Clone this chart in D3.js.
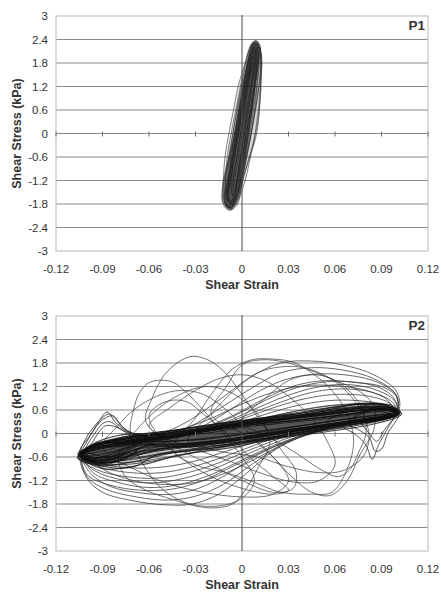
<!DOCTYPE html>
<html>
<head>
<meta charset="utf-8">
<script src="https://cdn.jsdelivr.net/npm/d3@7"></script>
<style>
  body { margin:0; background:#fff; }
  svg { display:block; font-family:"Liberation Sans", Arial, sans-serif; }
</style>
</head>
<body>
<svg id="chart" width="441" height="592"></svg>
<script>
// shear stress (kPa) vs shear strain, two test phases
const xTicks = [-0.12,-0.09,-0.06,-0.03,0,0.03,0.06,0.09,0.12];
const yTicks = [3,2.4,1.8,1.2,0.6,0,-0.6,-1.2,-1.8,-2.4,-3];
const panelLabels = ['P1','P2'];

// P1 loops: [strain, stress]
const p1Loops = [
  [[-0.0077,-1.95],[-0.003,-1.8],[0.0005,-1.2],[0.005,-0.6],[0.0095,0],[0.0112,0.6],[0.012,1.2],[0.012,1.8],[0.011,2.2],[0.0088,2.37],[0.0055,2.25],[0.002,1.8],[-0.0025,1.2],[-0.0055,0.6],[-0.0085,0],[-0.011,-0.6],[-0.012,-1.2],[-0.0115,-1.75]],
  [[-0.0068,-1.88],[-0.0025,-1.65],[0.001,-1.0],[0.0045,-0.3],[0.0075,0.4],[0.0095,1.1],[0.0105,1.7],[0.0098,2.2],[0.0075,2.3],[0.004,2.05],[0.0005,1.5],[-0.003,0.8],[-0.0065,0.1],[-0.0095,-0.6],[-0.0108,-1.3],[-0.0098,-1.8]],
  [[-0.006,-1.8],[-0.002,-1.4],[0.0015,-0.7],[0.0045,0.1],[0.007,0.9],[0.0085,1.6],[0.0085,2.15],[0.0065,2.28],[0.004,1.9],[0.001,1.2],[-0.002,0.4],[-0.005,-0.4],[-0.0078,-1.1],[-0.0085,-1.65]],
  [[-0.0075,-1.9],[-0.004,-1.7],[-0.001,-1.1],[0.002,-0.4],[0.0055,0.4],[0.0085,1.2],[0.0105,1.9],[0.0095,2.3],[0.0065,2.2],[0.003,1.7],[-0.001,1.0],[-0.0045,0.3],[-0.0078,-0.5],[-0.0105,-1.2],[-0.011,-1.75]],
  [[-0.0058,-1.7],[-0.002,-1.45],[0.0015,-0.8],[0.006,0],[0.0095,0.8],[0.0118,1.5],[0.0125,2.0],[0.0105,2.2],[0.0075,2.0],[0.004,1.5],[0.0,0.8],[-0.0035,0.0],[-0.007,-0.8],[-0.0095,-1.4],[-0.009,-1.7]],
  [[-0.0078,-1.92],[-0.0045,-1.78],[-0.0015,-1.3],[0.0015,-0.6],[0.0045,0.2],[0.0075,1.0],[0.0098,1.8],[0.0098,2.25],[0.0078,2.32],[0.005,2.0],[0.0015,1.4],[-0.002,0.6],[-0.0055,-0.2],[-0.0088,-1.0],[-0.0105,-1.6]],
  [[-0.005,-1.6],[-0.002,-1.2],[0.001,-0.5],[0.0035,0.3],[0.006,1.1],[0.0078,1.8],[0.007,2.1],[0.005,1.9],[0.002,1.3],[-0.001,0.5],[-0.004,-0.3],[-0.0065,-1.0],[-0.0068,-1.5]],
  [[-0.0085,-1.85],[-0.0055,-1.6],[-0.002,-1.0],[0.0015,-0.3],[0.005,0.5],[0.0082,1.3],[0.0105,2.0],[0.0092,2.35],[0.006,2.25],[0.0025,1.75],[-0.0015,1.0],[-0.005,0.2],[-0.0085,-0.6],[-0.0115,-1.3],[-0.0112,-1.75]],
  [[-0.0065,-1.75],[-0.0025,-1.5],[0.0005,-0.9],[0.0035,-0.2],[0.0065,0.6],[0.0092,1.4],[0.0112,2.05],[0.0102,2.3],[0.0072,2.15],[0.004,1.6],[0.0005,0.9],[-0.0032,0.1],[-0.0068,-0.7],[-0.0098,-1.35],[-0.0095,-1.7]],
  [[-0.007,-1.82],[-0.004,-1.55],[-0.0008,-0.95],[0.0022,-0.25],[0.005,0.5],[0.0078,1.25],[0.0095,1.9],[0.0085,2.2],[0.0055,2.05],[0.002,1.5],[-0.0015,0.7],[-0.0048,-0.1],[-0.008,-0.9],[-0.0098,-1.5]],
  [[-0.0072,-1.9],[-0.0035,-1.72],[0.0,-1.15],[0.0032,-0.45],[0.0062,0.3],[0.009,1.05],[0.0112,1.75],[0.0115,2.25],[0.0092,2.36],[0.0062,2.15],[0.0028,1.6],[-0.0008,0.9],[-0.0042,0.15],[-0.0078,-0.65],[-0.0108,-1.35],[-0.0108,-1.8]],
  [[-0.0062,-1.78],[-0.0028,-1.5],[0.0005,-0.85],[0.0038,-0.1],[0.0068,0.7],[0.0088,1.45],[0.0092,2.0],[0.0075,2.18],[0.0045,1.85],[0.0012,1.2],[-0.0022,0.45],[-0.0055,-0.35],[-0.0085,-1.1],[-0.009,-1.6]],
  [[-0.006,-1.85],[-0.003,-1.2],[0.0,-0.4],[0.003,0.4],[0.0065,1.2],[0.0095,1.9],[0.009,2.3],[0.0065,2.0],[0.0035,1.2],[0.0005,0.4],[-0.0025,-0.4],[-0.0055,-1.2],[-0.008,-1.8]],
  [[-0.007,-1.9],[-0.004,-1.4],[-0.0015,-0.7],[0.0015,0.1],[0.0045,0.9],[0.0075,1.6],[0.0092,2.2],[0.0075,2.32],[0.005,1.8],[0.0015,1.0],[-0.0015,0.2],[-0.005,-0.6],[-0.008,-1.3],[-0.0095,-1.8]],
  [[-0.0055,-1.6],[-0.0025,-1.0],[0.0005,-0.2],[0.0035,0.6],[0.0068,1.4],[0.0088,2.0],[0.0078,2.15],[0.0055,1.6],[0.0025,0.8],[-0.0008,0.0],[-0.0042,-0.8],[-0.0068,-1.4]],
  [[-0.0082,-1.9],[-0.006,-1.5],[-0.003,-0.8],[0.0,0.0],[0.0035,0.8],[0.0065,1.5],[0.0085,2.1],[0.007,2.25],[0.004,1.7],[0.0005,0.9],[-0.003,0.1],[-0.0065,-0.7],[-0.0095,-1.4],[-0.0102,-1.85]],
  [[-0.0045,-1.5],[-0.001,-0.9],[0.002,-0.2],[0.0055,0.6],[0.0085,1.3],[0.0105,1.9],[0.0095,2.1],[0.0068,1.7],[0.0035,1.0],[0.0,0.2],[-0.0035,-0.6],[-0.0058,-1.2]],
  [[-0.0095,-1.7],[-0.0075,-1.3],[-0.0048,-0.6],[-0.0015,0.2],[0.002,0.9],[0.0055,1.5],[0.0072,1.8],[0.005,1.6],[0.0015,1.0],[-0.002,0.3],[-0.0055,-0.5],[-0.0088,-1.2],[-0.011,-1.6]],
  [[-0.007,-1.75],[-0.0035,-1.3],[0.0,-0.6],[0.0035,0.2],[0.0068,1.0],[0.0098,1.7],[0.0118,2.2],[0.0098,2.3],[0.0065,1.9],[0.003,1.2],[-0.0005,0.4],[-0.004,-0.4],[-0.0072,-1.1],[-0.0095,-1.6]],
  [[-0.0065,-1.92],[-0.0048,-1.5],[-0.002,-0.9],[0.001,-0.2],[0.004,0.6],[0.0068,1.3],[0.0085,1.8],[0.007,1.95],[0.0042,1.5],[0.0012,0.8],[-0.0022,0.0],[-0.0058,-0.8],[-0.0085,-1.5],[-0.0088,-1.85]],
  [[-0.01,-1.6],[-0.0068,-1.0],[-0.0035,-0.3],[0.0,0.5],[0.0035,1.2],[0.006,1.7],[0.004,1.5],[0.0005,0.8],[-0.003,0.0],[-0.0065,-0.7],[-0.0092,-1.3]],
  [[-0.0058,-1.82],[-0.002,-1.55],[0.002,-0.95],[0.0075,-0.2],[0.0105,0.6],[0.012,1.3],[0.0128,1.85],[0.0115,2.15],[0.0088,2.05],[0.0055,1.6],[0.0015,0.9],[-0.002,0.1],[-0.0058,-0.7],[-0.0088,-1.35],[-0.009,-1.75]],
  [[-0.0078,-1.96],[-0.003,-1.75],[0.002,-1.2],[0.006,-0.5],[0.0098,0.2],[0.0118,0.9],[0.0125,1.6],[0.0118,2.15],[0.0092,2.35],[0.0062,2.1],[0.003,1.5],[-0.001,0.8],[-0.0048,0.0],[-0.009,-0.7],[-0.0125,-1.3],[-0.0122,-1.8]],
  [[-0.0088,-1.9],[-0.005,-1.7],[-0.0005,-1.2],[0.0035,-0.5],[0.0072,0.3],[0.0102,1.0],[0.0122,1.7],[0.011,2.2],[0.0078,2.1],[0.0042,1.6],[0.0005,0.9],[-0.0035,0.1],[-0.0078,-0.6],[-0.0118,-1.25],[-0.0125,-1.7]]
];

// P2 thin loops along the main band
const p2BandLoops = [
  [[-0.104,-0.56],[-0.095,-0.72],[-0.075,-0.6],[-0.05,-0.42],[-0.02,-0.28],[0.01,-0.1],[0.04,0.1],[0.07,0.28],[0.092,0.4],[0.101,0.52],[0.09,0.6],[0.06,0.45],[0.03,0.32],[0,0.2],[-0.03,0.02],[-0.06,-0.14],[-0.085,-0.28],[-0.1,-0.42]],
  [[-0.102,-0.5],[-0.09,-0.66],[-0.07,-0.5],[-0.045,-0.35],[-0.015,-0.22],[0.015,-0.05],[0.045,0.12],[0.075,0.3],[0.095,0.42],[0.099,0.55],[0.085,0.62],[0.055,0.48],[0.025,0.34],[-0.005,0.16],[-0.035,-0.02],[-0.065,-0.2],[-0.09,-0.32],[-0.1,-0.4]],
  [[-0.106,-0.6],[-0.092,-0.82],[-0.07,-0.72],[-0.045,-0.5],[-0.015,-0.35],[0.02,-0.12],[0.05,0.05],[0.08,0.25],[0.097,0.42],[0.102,0.56],[0.088,0.7],[0.06,0.6],[0.03,0.42],[0,0.3],[-0.03,0.12],[-0.06,-0.05],[-0.085,-0.2],[-0.1,-0.38]],
  [[-0.103,-0.62],[-0.088,-0.75],[-0.065,-0.45],[-0.04,-0.32],[-0.01,-0.2],[0.02,0],[0.05,0.15],[0.08,0.32],[0.1,0.48],[0.095,0.6],[0.07,0.5],[0.04,0.36],[0.01,0.24],[-0.02,0.08],[-0.05,-0.1],[-0.075,-0.22],[-0.095,-0.3]],
  [[-0.105,-0.5],[-0.095,-0.62],[-0.08,-0.55],[-0.06,-0.3],[-0.035,-0.25],[-0.005,-0.12],[0.025,0.08],[0.055,0.22],[0.085,0.38],[0.1,0.46],[0.098,0.58],[0.08,0.65],[0.05,0.52],[0.02,0.4],[-0.01,0.22],[-0.04,0.05],[-0.07,-0.12],[-0.09,-0.25]],
  [[-0.104,-0.58],[-0.09,-0.9],[-0.065,-0.8],[-0.04,-0.55],[-0.01,-0.38],[0.02,-0.15],[0.05,0.02],[0.08,0.2],[0.098,0.38],[0.103,0.5],[0.09,0.75],[0.065,0.7],[0.035,0.5],[0.005,0.36],[-0.025,0.2],[-0.055,0.0],[-0.08,-0.15],[-0.098,-0.3]],
  [[-0.1,-0.45],[-0.085,-0.6],[-0.065,-0.38],[-0.04,-0.28],[-0.01,-0.15],[0.02,0.02],[0.05,0.18],[0.08,0.34],[0.096,0.48],[0.09,0.56],[0.065,0.44],[0.035,0.3],[0.005,0.18],[-0.025,0.0],[-0.055,-0.12],[-0.08,-0.2],[-0.095,-0.3]],
  [[-0.106,-0.62],[-0.096,-0.78],[-0.078,-0.68],[-0.055,-0.42],[-0.025,-0.3],[0.005,-0.18],[0.035,0.02],[0.065,0.2],[0.09,0.35],[0.102,0.5],[0.096,0.62],[0.075,0.58],[0.045,0.45],[0.015,0.32],[-0.015,0.15],[-0.045,-0.05],[-0.075,-0.18],[-0.097,-0.35]],
  [[-0.103,-0.54],[-0.093,-0.68],[-0.072,-0.56],[-0.048,-0.38],[-0.018,-0.25],[0.012,-0.08],[0.042,0.14],[0.072,0.3],[0.094,0.44],[0.1,0.54],[0.088,0.64],[0.058,0.5],[0.028,0.36],[-0.002,0.22],[-0.032,0.04],[-0.062,-0.12],[-0.088,-0.26],[-0.099,-0.4]],
  [[-0.105,-0.58],[-0.091,-0.74],[-0.068,-0.62],[-0.043,-0.45],[-0.013,-0.3],[0.017,-0.12],[0.047,0.08],[0.077,0.26],[0.096,0.4],[0.101,0.52],[0.087,0.66],[0.057,0.55],[0.027,0.38],[-0.003,0.26],[-0.033,0.08],[-0.063,-0.08],[-0.087,-0.22],[-0.1,-0.36]],
  [[-0.104,-0.55],[-0.094,-0.7],[-0.078,-0.5],[-0.065,-0.3],[-0.045,-0.28],[-0.02,-0.22],[0.01,-0.05],[0.04,0.15],[0.07,0.32],[0.092,0.45],[0.1,0.53],[0.092,0.68],[0.07,0.62],[0.04,0.45],[0.01,0.3],[-0.02,0.12],[-0.05,-0.05],[-0.065,-0.05],[-0.08,-0.15],[-0.098,-0.35]],
  [[-0.103,-0.6],[-0.09,-0.8],[-0.075,-0.62],[-0.062,-0.32],[-0.04,-0.35],[-0.01,-0.28],[0.02,-0.1],[0.05,0.1],[0.078,0.28],[0.096,0.44],[0.102,0.55],[0.094,0.72],[0.075,0.75],[0.048,0.55],[0.018,0.38],[-0.012,0.2],[-0.04,0.02],[-0.062,-0.02],[-0.078,-0.1],[-0.096,-0.3]],
  [[-0.105,-0.55],[-0.097,-0.68],[-0.082,-0.62],[-0.066,-0.25],[-0.05,-0.2],[-0.025,-0.15],[0.005,0.0],[0.035,0.18],[0.065,0.35],[0.09,0.48],[0.1,0.5],[0.09,0.62],[0.065,0.56],[0.035,0.42],[0.005,0.28],[-0.025,0.1],[-0.052,0.0],[-0.07,-0.08],[-0.088,-0.22],[-0.1,-0.4]],
  [[-0.102,-0.58],[-0.088,-0.85],[-0.07,-0.85],[-0.055,-0.55],[-0.035,-0.45],[-0.005,-0.3],[0.025,-0.1],[0.055,0.1],[0.082,0.3],[0.099,0.46],[0.1,0.6],[0.085,0.78],[0.06,0.68],[0.03,0.5],[0.0,0.32],[-0.03,0.15],[-0.058,0.02],[-0.08,-0.05],[-0.095,-0.25]],
  [[-0.104,-0.6],[-0.095,-0.75],[-0.08,-0.7],[-0.062,-0.4],[-0.04,-0.3],[-0.012,-0.18],[0.018,0.0],[0.048,0.2],[0.076,0.36],[0.096,0.5],[0.098,0.58],[0.082,0.6],[0.052,0.5],[0.022,0.34],[-0.008,0.2],[-0.038,0.05],[-0.062,-0.1],[-0.085,-0.3],[-0.1,-0.45]],
  [[-0.106,-0.52],[-0.098,-0.62],[-0.085,-0.58],[-0.07,-0.32],[-0.048,-0.22],[-0.018,-0.1],[0.012,0.06],[0.042,0.22],[0.072,0.4],[0.094,0.5],[0.101,0.56],[0.095,0.66],[0.078,0.7],[0.05,0.58],[0.02,0.42],[-0.01,0.28],[-0.04,0.1],[-0.064,-0.02],[-0.08,-0.12],[-0.097,-0.32]]
];

// P2 loops where stress swings away from the band
const p2OpenLoops = [
  [[-0.104,-0.56],[-0.09,-0.7],[-0.07,-0.66],[-0.05,-0.52],[-0.03,-0.4],[-0.005,-0.25],[0.02,-0.05],[0.045,0.12],[0.07,0.3],[0.09,0.42],[0.101,0.52],[0.092,0.64],[0.075,0.66],[0.055,0.58],[0.035,0.45],[0.012,0.3],[-0.01,0.15],[-0.035,-0.02],[-0.06,-0.18],[-0.082,-0.3],[-0.098,-0.42]],
  [[-0.105,-0.58],[-0.092,-0.76],[-0.072,-0.78],[-0.052,-0.66],[-0.032,-0.5],[-0.01,-0.34],[0.014,-0.14],[0.04,0.06],[0.066,0.26],[0.088,0.4],[0.1,0.5],[0.094,0.68],[0.078,0.76],[0.058,0.72],[0.038,0.6],[0.018,0.42],[-0.004,0.24],[-0.028,0.06],[-0.054,-0.12],[-0.078,-0.28],[-0.097,-0.42]],
  [[-0.103,-0.55],[-0.09,-0.78],[-0.07,-0.88],[-0.05,-0.85],[-0.03,-0.7],[-0.01,-0.45],[0.01,-0.2],[0.035,0.05],[0.06,0.25],[0.085,0.4],[0.1,0.52],[0.095,0.7],[0.08,0.82],[0.06,0.85],[0.04,0.75],[0.02,0.55],[0.0,0.3],[-0.025,0.05],[-0.05,-0.15],[-0.075,-0.3],[-0.095,-0.4]],
  [[-0.104,-0.58],[-0.092,-0.85],[-0.072,-1.0],[-0.052,-1.0],[-0.032,-0.85],[-0.012,-0.6],[0.008,-0.3],[0.03,0.0],[0.055,0.22],[0.08,0.38],[0.099,0.5],[0.096,0.75],[0.082,0.95],[0.062,1.0],[0.042,0.9],[0.022,0.68],[0.002,0.4],[-0.02,0.1],[-0.045,-0.12],[-0.07,-0.28],[-0.092,-0.4]],
  [[-0.105,-0.6],[-0.094,-0.92],[-0.075,-1.1],[-0.055,-1.14],[-0.035,-1.0],[-0.015,-0.75],[0.005,-0.42],[0.028,-0.08],[0.052,0.18],[0.078,0.36],[0.1,0.52],[0.097,0.8],[0.084,1.05],[0.065,1.14],[0.045,1.05],[0.025,0.8],[0.005,0.5],[-0.018,0.15],[-0.042,-0.1],[-0.068,-0.25],[-0.09,-0.38]],
  [[-0.104,-0.55],[-0.095,-0.95],[-0.078,-1.18],[-0.058,-1.26],[-0.038,-1.15],[-0.018,-0.9],[0.002,-0.55],[0.025,-0.18],[0.05,0.12],[0.076,0.35],[0.1,0.5],[0.098,0.85],[0.086,1.12],[0.068,1.25],[0.048,1.18],[0.028,0.95],[0.008,0.62],[-0.015,0.22],[-0.04,-0.08],[-0.066,-0.24],[-0.09,-0.36]],
  [[-0.102,-0.52],[-0.096,-1.0],[-0.08,-1.25],[-0.06,-1.38],[-0.04,-1.3],[-0.02,-1.05],[0.0,-0.68],[0.022,-0.28],[0.048,0.06],[0.075,0.32],[0.1,0.5],[0.098,0.9],[0.088,1.18],[0.07,1.32],[0.05,1.3],[0.03,1.1],[0.01,0.75],[-0.012,0.32],[-0.038,-0.05],[-0.064,-0.22],[-0.088,-0.34]],
  [[-0.103,-0.56],[-0.1,-1.05],[-0.085,-1.32],[-0.065,-1.45],[-0.045,-1.42],[-0.025,-1.2],[-0.005,-0.82],[0.018,-0.38],[0.045,0.0],[0.072,0.3],[0.099,0.5],[0.1,0.92],[0.09,1.2],[0.074,1.3],[0.054,1.35],[0.034,1.22],[0.014,0.88],[-0.008,0.42],[-0.034,0.02],[-0.062,-0.2],[-0.088,-0.33]],
  [[-0.104,-0.58],[-0.088,-0.72],[-0.068,-0.72],[-0.048,-0.6],[-0.028,-0.45],[-0.008,-0.28],[0.015,-0.08],[0.04,0.1],[0.065,0.28],[0.088,0.42],[0.101,0.52],[0.094,0.68],[0.076,0.74],[0.056,0.7],[0.036,0.58],[0.016,0.42],[-0.006,0.22],[-0.03,0.02],[-0.056,-0.15],[-0.08,-0.3],[-0.098,-0.42]],
  [[-0.1,-0.5],[-0.09,-0.9],[-0.07,-1.2],[-0.05,-1.3],[-0.03,-1.25],[-0.01,-1.0],[0.01,-0.62],[0.03,-0.2],[0.055,0.15],[0.08,0.38],[0.098,0.5],[0.094,0.85],[0.08,1.1],[0.06,1.22],[0.04,1.22],[0.02,1.05],[0.0,0.75],[-0.022,0.35],[-0.048,0.0],[-0.072,-0.2],[-0.092,-0.35]],
  [[-0.103,-0.56],[-0.098,-1.0],[-0.085,-1.35],[-0.065,-1.52],[-0.045,-1.55],[-0.028,-1.4],[-0.01,-1.05],[0.01,-0.55],[0.035,-0.1],[0.065,0.25],[0.099,0.5],[0.1,0.95],[0.088,1.3],[0.07,1.48],[0.05,1.52],[0.03,1.4],[0.012,1.1],[-0.008,0.6],[-0.03,0.1],[-0.06,-0.18],[-0.088,-0.33]],
  [[-0.103,-0.56],[-0.1,-1.1],[-0.088,-1.42],[-0.068,-1.62],[-0.048,-1.7],[-0.03,-1.6],[-0.012,-1.3],[0.006,-0.8],[0.028,-0.25],[0.06,0.2],[0.099,0.5],[0.099,1.0],[0.085,1.4],[0.065,1.62],[0.045,1.68],[0.025,1.55],[0.008,1.2],[-0.012,0.7],[-0.035,0.15],[-0.062,-0.16],[-0.088,-0.33]],
  [[-0.104,-0.56],[-0.1,-1.15],[-0.09,-1.5],[-0.07,-1.72],[-0.05,-1.82],[-0.032,-1.8],[-0.015,-1.55],[0.002,-1.05],[0.022,-0.4],[0.055,0.15],[0.1,0.5],[0.1,1.05],[0.085,1.5],[0.065,1.75],[0.045,1.85],[0.025,1.8],[0.006,1.45],[-0.015,0.85],[-0.04,0.2],[-0.065,-0.15],[-0.09,-0.33]]
];

// P2 early large-stress loops
const p2BigLoops = [
  [[-0.072,0.0],[-0.07,0.6],[-0.066,1.05],[-0.06,1.3],[-0.052,1.36],[-0.044,1.3],[-0.036,1.05],[-0.025,0.6],[-0.012,0.0],[0.0,-0.6],[0.008,-1.2],[0.0,-1.65],[-0.015,-1.85],[-0.035,-1.78],[-0.052,-1.4],[-0.065,-0.7]],
  [[-0.062,0.3],[-0.058,0.9],[-0.05,1.5],[-0.04,1.85],[-0.032,1.97],[-0.022,1.88],[-0.012,1.6],[0.0,1.0],[0.012,0.3],[0.025,-0.4],[0.035,-1.0],[0.033,-1.4],[0.02,-1.5],[0.0,-1.2],[-0.02,-0.8],[-0.04,-0.4]],
  [[-0.045,-0.4],[-0.03,0.4],[-0.018,1.1],[-0.006,1.65],[0.006,1.88],[0.02,1.9],[0.033,1.82],[0.045,1.55],[0.058,1.1],[0.068,0.5],[0.072,-0.2],[0.068,-0.9],[0.058,-1.5],[0.045,-1.55],[0.025,-1.5],[0.008,-1.25],[-0.01,-1.0],[-0.03,-0.8]],
  [[-0.08,-0.6],[-0.075,-1.1],[-0.062,-1.45],[-0.045,-1.68],[-0.03,-1.85],[-0.018,-1.9],[-0.006,-1.8],[0.002,-1.45],[0.01,-0.9],[0.018,-0.2],[0.01,0.5],[-0.005,1.0],[-0.022,1.2],[-0.04,1.0],[-0.058,0.5],[-0.072,-0.1]],
  [[-0.02,0.5],[-0.01,1.2],[0.0,1.75],[0.012,1.88],[0.028,1.82],[0.045,1.6],[0.06,1.35],[0.075,1.1],[0.085,0.7],[0.085,0.1],[0.076,-0.55],[0.068,-1.2],[0.057,-1.58],[0.045,-1.5],[0.032,-1.1],[0.02,-0.6],[0.005,-0.1]],
  [[-0.055,0.7],[-0.045,0.85],[-0.035,0.8],[-0.025,0.5],[-0.01,0.0],[0.005,-0.6],[0.02,-1.1],[0.03,-1.45],[0.02,-1.55],[0.0,-1.4],[-0.02,-1.1],[-0.04,-0.6],[-0.055,0.0],[-0.06,0.45]],
  [[0.0,0.3],[0.015,0.9],[0.03,1.35],[0.045,1.5],[0.058,1.4],[0.07,1.05],[0.078,0.6],[0.08,0.0],[0.075,-0.5],[0.07,-0.9],[0.062,-1.1],[0.05,-0.9],[0.035,-0.5],[0.018,-0.1]],
  [[-0.09,-0.3],[-0.08,0.2],[-0.07,0.6],[-0.055,0.95],[-0.04,1.1],[-0.025,1.0],[-0.01,0.6],[0.005,0.0],[0.02,-0.6],[0.03,-1.2],[0.02,-1.55],[0.0,-1.62],[-0.025,-1.5],[-0.05,-1.25],[-0.07,-0.9],[-0.085,-0.6]],
  [[-0.06,0.2],[-0.045,0.7],[-0.03,1.1],[-0.015,1.4],[0.0,1.5],[0.015,1.35],[0.03,0.95],[0.045,0.4],[0.055,-0.2],[0.06,-0.8],[0.05,-1.2],[0.035,-1.25],[0.015,-1.05],[-0.005,-0.75],[-0.03,-0.4],[-0.05,-0.1]],
  [[-0.035,-0.2],[-0.02,0.5],[-0.005,1.1],[0.01,1.55],[0.025,1.7],[0.04,1.68],[0.055,1.45],[0.068,1.05],[0.078,0.5],[0.082,-0.1],[0.078,-0.6],[0.065,-0.95],[0.05,-1.0],[0.03,-0.85],[0.01,-0.6],[-0.015,-0.45]]
];

// P2 spiky excursions near the strain extremes
const p2TipLoops = [
  [[-0.104,-0.55],[-0.1,-0.2],[-0.094,0.2],[-0.087,0.55],[-0.082,0.3],[-0.076,0.1],[-0.066,-0.05],[-0.055,-0.15],[-0.065,-0.35],[-0.08,-0.6],[-0.095,-0.75]],
  [[-0.105,-0.5],[-0.098,-0.05],[-0.09,0.35],[-0.083,0.45],[-0.078,0.2],[-0.07,0.0],[-0.06,-0.1],[-0.07,-0.3],[-0.088,-0.55],[-0.1,-0.7]],
  [[-0.103,-0.58],[-0.1,-0.3],[-0.095,0.0],[-0.09,0.25],[-0.085,0.3],[-0.078,0.1],[-0.068,-0.1],[-0.075,-0.35],[-0.09,-0.6]],
  [[-0.104,-0.5],[-0.101,-0.15],[-0.096,0.15],[-0.09,0.4],[-0.086,0.5],[-0.081,0.35],[-0.074,0.05],[-0.062,-0.12],[-0.072,-0.25],[-0.09,-0.45]],
  [[-0.102,-0.55],[-0.097,-0.25],[-0.092,0.05],[-0.088,0.2],[-0.08,0.15],[-0.072,-0.05],[-0.064,-0.18],[-0.078,-0.4]],
  [[0.1,0.55],[0.095,0.2],[0.088,-0.3],[0.084,-0.66],[0.08,-0.3],[0.074,-0.05],[0.065,0.15],[0.055,0.3],[0.07,0.6],[0.085,0.75],[0.098,0.7]],
  [[0.101,0.5],[0.094,0.0],[0.09,-0.4],[0.086,-0.45],[0.082,-0.1],[0.075,0.1],[0.068,0.25],[0.08,0.55],[0.095,0.65]],
  [[0.099,0.52],[0.092,0.1],[0.087,-0.2],[0.083,-0.05],[0.078,0.2],[0.072,0.4],[0.085,0.65]]
];

const svg = d3.select('#chart');
const plotLeft = 56, plotRight = 428, plotH = 235;
const panelTops = [16, 316];

function drawPanel(top, layers, label){
  const g = svg.append('g');
  const x = d3.scaleLinear().domain([-0.12,0.12]).range([plotLeft, plotRight]);
  const y = d3.scaleLinear().domain([-3,3]).range([top+plotH, top]);

  // horizontal grid
  g.selectAll('line.grid').data(yTicks.filter(v=>v!==3 && v!==-3)).enter().append('line')
    .attr('x1',plotLeft).attr('x2',plotRight).attr('y1',d=>y(d)).attr('y2',d=>y(d))
    .attr('stroke','#8a8a8a').attr('stroke-width',1.2);
  // frame
  g.append('rect').attr('x',plotLeft).attr('y',top).attr('width',plotRight-plotLeft).attr('height',plotH)
    .attr('fill','none').attr('stroke','#c4c4c4').attr('stroke-width',1.2);

  // loops (light fill darkens where many cycles overlap)
  const line = d3.line().x(d=>x(d[0])).y(d=>y(d[1])).curve(d3.curveCatmullRomClosed.alpha(0.5));
  layers.forEach(l=>{
    g.append('g').selectAll('path').data(l.loops).enter().append('path')
      .attr('d',line).attr('fill',l.fill||'none').attr('fill-opacity',l.fillOpacity||0)
      .attr('stroke',l.stroke).attr('stroke-width',l.width).attr('stroke-opacity',l.opacity);
  });

  // zero axes
  g.append('line').attr('x1',x(0)).attr('x2',x(0)).attr('y1',top-1).attr('y2',top+plotH)
    .attr('stroke','#4a4a4a').attr('stroke-width',1);
  g.selectAll('line.xt').data(xTicks.filter(v=>v!==0)).enter().append('line')
    .attr('x1',d=>x(d)).attr('x2',d=>x(d)).attr('y1',y(0)-2).attr('y2',y(0)+3)
    .attr('stroke','#6a6a6a').attr('stroke-width',1);

  // tick labels
  g.selectAll('text.yl').data(yTicks).enter().append('text')
    .attr('x',plotLeft-8).attr('y',d=>y(d)).attr('dy','0.36em')
    .attr('text-anchor','end').attr('font-size',11.5).attr('fill','#333')
    .text(d=>d);
  g.selectAll('text.xl').data(xTicks).enter().append('text')
    .attr('x',d=>x(d)).attr('y',top+plotH+22)
    .attr('text-anchor','middle').attr('font-size',11.5).attr('fill','#333')
    .text(d=>d);

  // titles
  g.append('text').attr('x',x(0)).attr('y',top+plotH+38)
    .attr('text-anchor','middle').attr('font-size',12.5).attr('font-weight','bold').attr('fill','#333')
    .text('Shear Strain');
  g.append('text').attr('transform',`translate(21,${top+plotH/2}) rotate(-90)`)
    .attr('text-anchor','middle').attr('font-size',12.5).attr('font-weight','bold').attr('fill','#333')
    .text('Shear Stress (kPa)');
  g.append('text').attr('x',plotRight-3).attr('y',top+14)
    .attr('text-anchor','end').attr('font-size',13.5).attr('font-weight','bold').attr('fill','#333')
    .text(label);
}

drawPanel(panelTops[0], [
  {loops:p1Loops, stroke:'#2a2a2a', width:1.1, opacity:0.5, fill:'#333', fillOpacity:0.065}
], panelLabels[0]);
drawPanel(panelTops[1], [
  {loops:p2BigLoops, stroke:'#4a4a4a', width:0.9, opacity:0.85},
  {loops:p2OpenLoops, stroke:'#3a3a3a', width:0.9, opacity:0.85},
  {loops:p2TipLoops, stroke:'#222', width:0.9, opacity:0.85},
  {loops:p2BandLoops, stroke:'#111', width:1.1, opacity:0.75, fill:'#111', fillOpacity:0.07}
], panelLabels[1]);
</script>
</body>
</html>
